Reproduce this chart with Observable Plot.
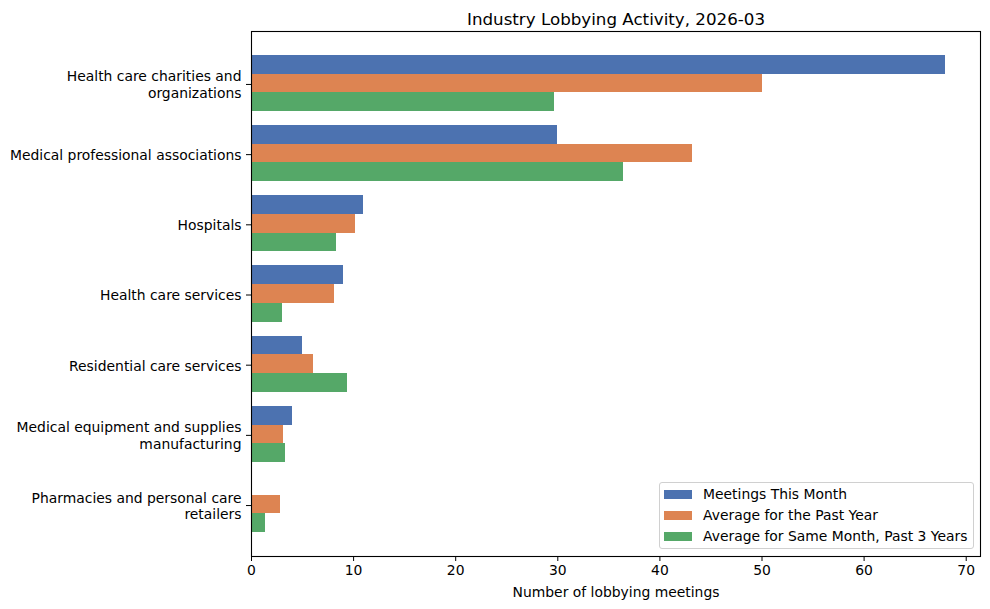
<!DOCTYPE html>
<html>
<head>
<meta charset="utf-8">
<script src="https://cdn.jsdelivr.net/npm/d3@7"></script>
<script src="https://cdn.jsdelivr.net/npm/@observablehq/plot@0.6"></script>
<style>
  html, body { margin: 0; padding: 0; background: white; }
  #wrap { position: relative; width: 990px; height: 609px; font-family: "DejaVu Sans", sans-serif; }
  #legend { position: absolute; left: 659px; top: 482px; width: 315px; height: 67px; border: 1px solid #d0d0d0; border-radius: 3px; background: rgba(255,255,255,0.85); box-sizing: border-box; font-size: 13.9px; color: #000; }
  .row { position: absolute; left: 0; height: 20px; display: flex; align-items: center; }
  .sw { width: 28px; height: 9px; margin-left: 4px; margin-right: 11px; }
</style>
</head>
<body>
<div id="wrap"></div>
<script>
const title = "Industry Lobbying Activity, 2026-03";
const xLabel = "Number of lobbying meetings";
const categories = [
  "Health care charities and\norganizations",
  "Medical professional associations",
  "Hospitals",
  "Health care services",
  "Residential care services",
  "Medical equipment and supplies\nmanufacturing",
  "Pharmacies and personal care\nretailers"
];
const seriesNames = ["Meetings This Month", "Average for the Past Year", "Average for Same Month, Past 3 Years"];
const thisMonth   = [68, 30, 11, 9, 5, 4, 0];
const pastYear    = [50, 43.2, 10.2, 8.1, 6.1, 3.1, 2.8];
const sameMonth3y = [29.7, 36.4, 8.3, 3.0, 9.4, 3.3, 1.35];
const colors = ["#4c72b0", "#dd8452", "#55a868"];
const xTicks = [0, 10, 20, 30, 40, 50, 60, 70];

const seriesValues = [thisMonth, pastYear, sameMonth3y];
const rows = [];
seriesNames.forEach((s, k) => seriesValues[k].forEach((v, i) => rows.push({i, k, series: s, value: v})));
const bh = 0.8 / 3;

const chart = Plot.plot({
  width: 990, height: 609,
  marginTop: 31, marginBottom: 53, marginLeft: 251, marginRight: 10,
  style: {fontFamily: "DejaVu Sans", fontSize: "13.9px", color: "black", background: "white"},
  x: {domain: [0, 71.4]},
  y: {domain: [-0.74, 6.74], reverse: true},
  color: {domain: seriesNames, range: colors},
  marks: [
    Plot.rect(rows, {x1: 0, x2: "value", y1: d => d.i + (d.k - 1.5) * bh, y2: d => d.i + (d.k - 0.5) * bh, fill: "series", shapeRendering: "crispEdges"}),
    Plot.frame({stroke: "black", strokeWidth: 1.1}),
    Plot.axisX({ticks: xTicks, tickSize: 5, tickPadding: 4, label: xLabel, labelAnchor: "center", labelArrow: "none", labelOffset: 40, fontSize: 13.9}),
    Plot.axisY({ticks: d3.range(categories.length), tickFormat: i => categories[i], tickSize: 5, tickPadding: 5, label: null, lineHeight: 1.2, fontSize: 13.9, dy: 1}),
    Plot.text([title], {frameAnchor: "top", lineAnchor: "bottom", dy: -7, fontSize: 16.7})
  ]
});
const wrap = document.getElementById("wrap");
wrap.appendChild(chart);

const legend = document.createElement("div");
legend.id = "legend";
seriesNames.forEach((s, k) => {
  const r = document.createElement("div");
  r.className = "row";
  r.style.top = (1 + k * 21) + "px";
  const sw = document.createElement("div");
  sw.className = "sw";
  sw.style.background = colors[k];
  const t = document.createElement("span");
  t.textContent = s;
  r.appendChild(sw); r.appendChild(t);
  legend.appendChild(r);
});
wrap.appendChild(legend);
</script>
</body>
</html>
